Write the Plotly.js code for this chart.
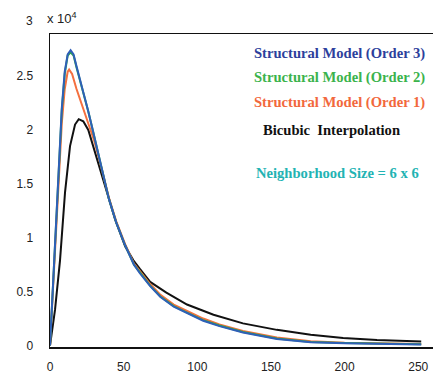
<!DOCTYPE html>
<html><head><meta charset="utf-8">
<script src="https://cdn.plot.ly/plotly-3.0.1.min.js"></script>
<style>html,body{margin:0;padding:0;background:#fff}#c{width:433px;height:373px}</style>
</head><body><div id="c"></div>
<script>
// Values in units of counts (x 10^4 displayed)
const xBlue  = [0, 2, 4, 6, 8, 10, 12, 14, 16, 18, 20, 23, 26, 29, 32, 35, 40, 45, 51, 57, 61, 68, 75, 84, 93, 104, 115, 131, 154, 177, 200, 225, 252];
const yBlue  = [0, 5600, 11300, 16800, 22000, 25400, 27000, 27400, 27000, 25900, 24900, 23300, 21700, 20000, 18200, 16300, 13600, 11400, 9300, 7500, 6700, 5500, 4500, 3600, 3000, 2300, 1800, 1200, 600, 300, 200, 130, 100];
const xGreen = [0, 2, 4, 6, 8, 10, 12, 14, 16, 18, 20, 23, 26, 29, 32, 35, 40, 45, 51, 57, 61, 68, 75, 84, 93, 104, 115, 131, 154, 177, 200, 225, 252];
const yGreen = [0, 5500, 11100, 16600, 21800, 25200, 26900, 27200, 26900, 25800, 24800, 23200, 21700, 20000, 18200, 16300, 13600, 11400, 9300, 7500, 6750, 5550, 4550, 3650, 3050, 2350, 1850, 1250, 650, 330, 220, 150, 110];
const xOrange = [0, 2, 4, 6, 8, 10, 12, 13, 15, 18, 21, 24, 27, 30, 33, 36, 40, 45, 51, 57, 61, 68, 75, 84, 93, 104, 115, 131, 154, 177, 200, 225, 252];
const yOrange = [0, 5400, 10800, 16000, 20600, 23800, 25400, 25600, 25200, 23800, 22600, 21600, 20300, 19000, 17500, 15900, 13700, 11500, 9400, 7600, 6900, 5700, 4700, 3800, 3200, 2500, 1950, 1350, 750, 400, 260, 180, 130];
const xBlack = [0, 3.4, 6.8, 10.2, 13.6, 17, 19.5, 22.6, 26, 30.6, 35, 39.6, 44.2, 51, 56.6, 61, 68, 79, 93, 111, 131, 154, 177, 199, 222, 252];
const yBlack = [0, 3300, 7900, 14200, 18500, 20500, 21000, 20800, 20000, 17900, 15700, 13800, 11700, 9200, 7900, 7100, 5900, 4900, 3800, 2850, 2050, 1450, 1000, 700, 500, 380];
const yTickVals = [0, 5000, 10000, 15000, 20000, 25000];
const yTickText = ['0', '0.5', '1', '1.5', '2', '2.5'];
const xTickVals = [0, 50, 100, 150, 200, 250];
const xTickText = ['0', '50', '100', '150', '200', '250'];
const labels = ['Structural Model (Order 3)', 'Structural Model (Order 2)', 'Structural Model (Order 1)', 'Bicubic  Interpolation', 'Neighborhood Size = 6 x 6'];

const traces = [
  {x: xBlack, y: yBlack, mode: 'lines', line: {color: '#111111', width: 2}, name: labels[3]},
  {x: xOrange, y: yOrange, mode: 'lines', line: {color: '#f4703f', width: 2}, name: labels[2]},
  {x: xGreen, y: yGreen, mode: 'lines', line: {color: '#2ca84c', width: 2}, name: labels[1]},
  {x: xBlue, y: yBlue, mode: 'lines', line: {color: '#2f5fb8', width: 2}, name: labels[0]}
];
const tf = {family: 'Liberation Serif, Times New Roman, serif', size: 14.6};
const layout = {
  width: 433, height: 373,
  margin: {l: 50, r: 0, t: 34, b: 26},
  paper_bgcolor: '#ffffff', plot_bgcolor: '#ffffff',
  showlegend: false,
  font: {family: 'Liberation Sans, Arial, sans-serif', size: 12, color: '#222'},
  xaxis: {range: [0, 260], showgrid: false, zeroline: false, showline: true, mirror: true, linecolor: '#111', linewidth: 1.5,
          tickmode: 'array', tickvals: xTickVals, ticktext: xTickText, ticks: 'outside', ticklen: 8, tickcolor: 'rgba(0,0,0,0)'},
  yaxis: {range: [-140, 28900], showgrid: false, zeroline: false, showline: true, mirror: false, linecolor: '#111', linewidth: 1.5,
          tickmode: 'array', tickvals: yTickVals, ticktext: yTickText, ticks: 'outside', ticklen: 13, tickcolor: 'rgba(0,0,0,0)'},
  annotations: [
    {xref: 'paper', yref: 'paper', x: -0.04, y: 1.04, xanchor: 'right', yanchor: 'middle', text: '3', showarrow: false, font: {size: 12, color: '#222'}},
    {xref: 'paper', yref: 'paper', x: -0.012, y: 1.05, xanchor: 'left', yanchor: 'middle', text: 'x 10<sup>4</sup>', showarrow: false, font: {size: 13, color: '#222'}},
    {xref: 'paper', yref: 'paper', x: 0.984, y: 0.939, xanchor: 'right', yanchor: 'middle', text: '<b>' + labels[0] + '</b>', showarrow: false, font: Object.assign({}, tf, {color: '#2d3f9c'})},
    {xref: 'paper', yref: 'paper', x: 0.984, y: 0.862, xanchor: 'right', yanchor: 'middle', text: '<b>' + labels[1] + '</b>', showarrow: false, font: Object.assign({}, tf, {color: '#3bb34c'})},
    {xref: 'paper', yref: 'paper', x: 0.984, y: 0.782, xanchor: 'right', yanchor: 'middle', text: '<b>' + labels[2] + '</b>', showarrow: false, font: Object.assign({}, tf, {color: '#f2683c'})},
    {xref: 'paper', yref: 'paper', x: 0.919, y: 0.693, xanchor: 'right', yanchor: 'middle', text: '<b>' + labels[3] + '</b>', showarrow: false, font: Object.assign({}, tf, {color: '#111'})},
    {xref: 'paper', yref: 'paper', x: 0.969, y: 0.556, xanchor: 'right', yanchor: 'middle', text: '<b>' + labels[4] + '</b>', showarrow: false, font: Object.assign({}, tf, {color: '#22b3b3'})}
  ]
};
Plotly.newPlot('c', traces, layout, {displayModeBar: false, staticPlot: true});
</script></body></html>
